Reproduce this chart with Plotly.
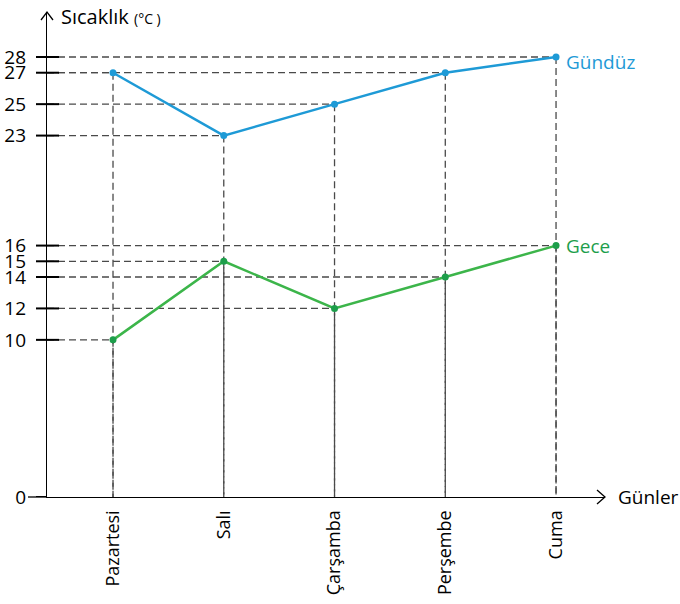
import plotly.graph_objects as go

days = ["Pazartesi", "Salı", "Çarşamba", "Perşembe", "Cuma"]
gunduz = [27, 23, 25, 27, 28]
gece = [10, 15, 12, 14, 16]
y_ticks = [0, 10, 12, 14, 15, 16, 23, 25, 27, 28]

BLUE = "#1e9ad6"
GREEN_LINE = "#3cb54a"
GREEN_DOT = "#1d9e4b"
GRID = "#4a4a4a"
FONT = "Open Sans"

W, H = 680, 604
L, R, T, B = 47, 75, 12, 107
pw, ph = W - L - R, H - T - B
x_idx = list(range(len(days)))
x_min, x_max = -0.596, 4.442


def px(x):
    return (x - L) / pw


def py(y):
    return (H - B - y) / ph


fig = go.Figure()

# dashed guide lines from each point to both axes
shapes = []
for vals in (gunduz, gece):
    for i, v in zip(x_idx, vals):
        dash = dict(color=GRID, width=1.3, dash="7px,4px")
        shapes.append(dict(type="line", xref="x", yref="y", x0=x_min, x1=i, y0=v, y1=v, line=dash, layer="below"))
        shapes.append(dict(type="line", xref="x", yref="y", x0=i, x1=i, y0=v, y1=0, line=dash, layer="below"))

# tick marks crossing the y axis
for t in y_ticks:
    shapes.append(dict(type="line", xref="paper", yref="y", x0=px(36), x1=px(59 if t else 47),
                       y0=t, y1=t, line=dict(color="black", width=2)))

# axis extension and arrow heads
shapes.append(dict(type="line", xref="paper", yref="paper", x0=px(28), x1=0, y0=0, y1=0,
                   line=dict(color="black", width=1.3)))
shapes.append(dict(type="path", xref="paper", yref="paper",
                   path=f"M {px(597)} {py(490)} L {px(605)} {py(497)} L {px(597)} {py(504)}",
                   line=dict(color="black", width=1.3)))
shapes.append(dict(type="path", xref="paper", yref="paper",
                   path=f"M {px(41)} {py(20)} L {px(47)} {py(12)} L {px(53)} {py(20)}",
                   line=dict(color="black", width=1.3)))

fig.add_trace(go.Scatter(x=x_idx, y=gunduz, mode="lines+markers", name="Gündüz",
                         line=dict(color=BLUE, width=2.5), marker=dict(color=BLUE, size=7)))
fig.add_trace(go.Scatter(x=x_idx, y=gece, mode="lines+markers", name="Gece",
                         line=dict(color=GREEN_LINE, width=2.5), marker=dict(color=GREEN_DOT, size=7)))

annotations = [
    dict(x=x_idx[-1], y=gunduz[-1], xref="x", yref="y", text="Gündüz", showarrow=False,
         xanchor="left", xshift=8, yshift=-5, font=dict(color=BLUE, size=19)),
    dict(x=x_idx[-1], y=gece[-1], xref="x", yref="y", text="Gece", showarrow=False,
         xanchor="left", xshift=8, font=dict(color=GREEN_DOT, size=19)),
    dict(x=px(59), y=py(17), xref="paper", yref="paper", text="Sıcaklık <span style='font-size:14px'>(°C )</span>",
         showarrow=False, xanchor="left", yanchor="middle", font=dict(color="black", size=20)),
    dict(x=px(616), y=py(497), xref="paper", yref="paper", text="Günler", showarrow=False,
         xanchor="left", yanchor="middle", font=dict(color="black", size=19)),
]

fig.update_layout(
    width=W, height=H,
    margin=dict(l=L, r=R, t=T, b=B),
    paper_bgcolor="white", plot_bgcolor="white",
    showlegend=False,
    font=dict(family=FONT, color="black"),
    shapes=shapes,
    annotations=annotations,
    xaxis=dict(range=[x_min, x_max], tickvals=x_idx, ticktext=days, tickangle=-90, automargin=False,
               showgrid=False, zeroline=False, showline=True, linecolor="black", linewidth=1.3,
               ticks="outside", ticklen=5, tickcolor="rgba(0,0,0,0)", tickfont=dict(size=18)),
    yaxis=dict(range=[0, (H - B - T) / 15.714], tickvals=y_ticks, showgrid=False, zeroline=False,
               automargin=False, showline=True, linecolor="black", linewidth=1.3,
               ticks="outside", ticklen=16, tickcolor="rgba(0,0,0,0)", tickfont=dict(size=19)),
)

fig.write_html("out.html", config={"displayModeBar": False},
               post_script="document.body.style.margin='0';document.body.style.overflow='hidden';")
